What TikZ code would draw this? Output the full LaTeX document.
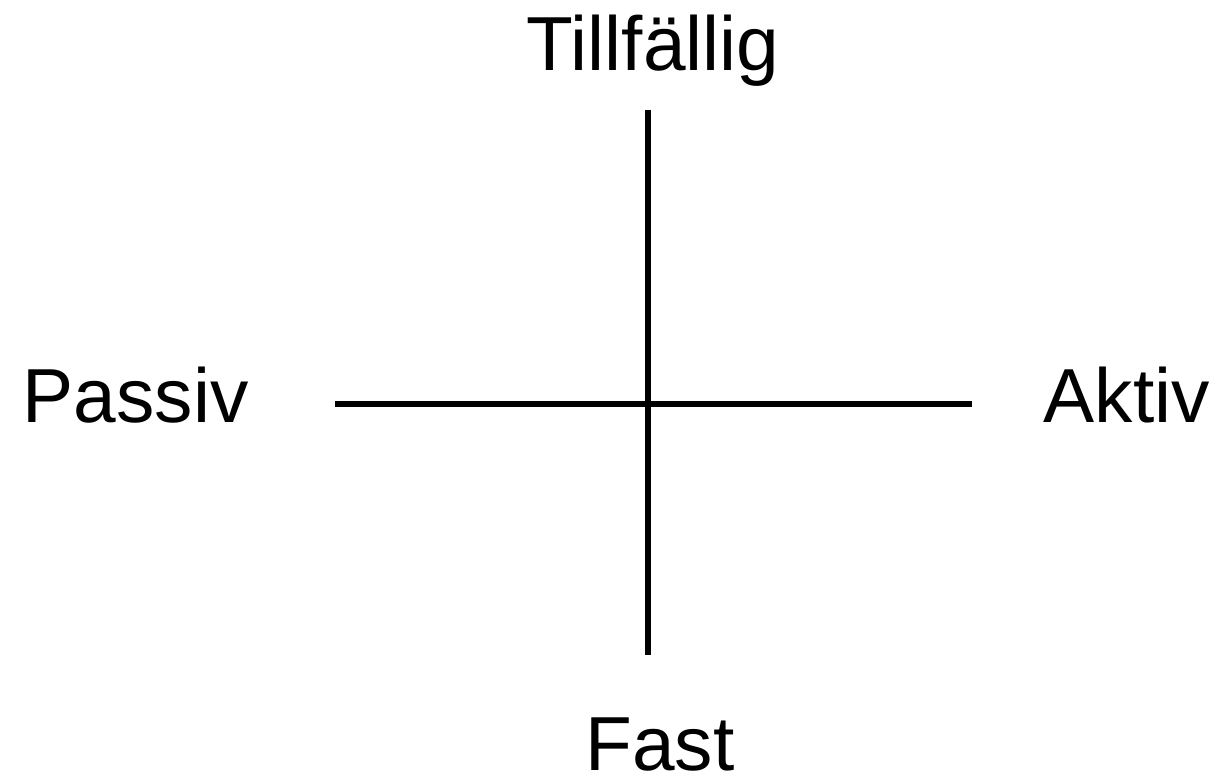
\documentclass[tikz,border=0pt]{standalone}
\usepackage{fontspec}
\setmainfont{Liberation Sans}
\usetikzlibrary{positioning}

\begin{document}
\begin{tikzpicture}

    \useasboundingbox (0,0) rectangle (12.21,7.83);
    \tikzstyle{lnode} = [inner sep = 0pt, font=\fontsize{21.8}{26}\selectfont]
    \tikzstyle{axis} = [line width = 1.6pt]

    \node[lnode, anchor=base] (till) at (6.53,7.12) {Tillfällig};
    \node[lnode, anchor=base] (fast) at (6.60,0.12) {Fast};
    \node[lnode, anchor=base west] (passiv) at (0.22,3.60) {Passiv};
    \node[lnode, anchor=base west] (aktiv) at (10.43,3.60) {Aktiv};

    \coordinate (top) at (6.48,6.73);
    \coordinate (bot) at (6.48,1.28);
    \coordinate (left) at (3.35,3.79);
    \coordinate (right) at (9.72,3.79);

    \draw[axis] (top) -- (bot);
    \draw[axis] (left) -- (right);

\end{tikzpicture}
\end{document}
